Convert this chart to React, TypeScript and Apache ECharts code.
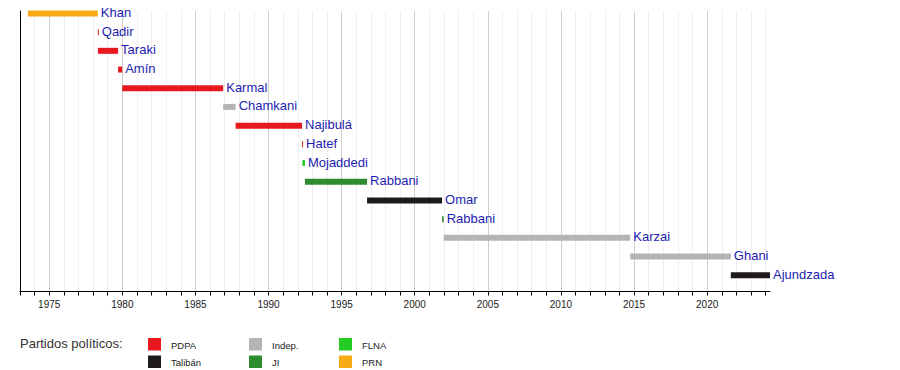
import React, { useEffect, useRef } from "react";
import * as echarts from "echarts";

// ---- data ----
const LEADERS = [
  "Khan", "Qadir", "Taraki", "Amín", "Karmal", "Chamkani", "Najibulá", "Hatef",
  "Mojaddedi", "Rabbani", "Omar", "Rabbani", "Karzai", "Ghani", "Ajundzada",
];
const START_YEARS = [
  1973.54, 1978.32, 1978.33, 1979.71, 1979.99, 1986.9, 1987.75, 1992.29,
  1992.32, 1992.49, 1996.74, 2001.87, 2001.98, 2014.74, 2021.62,
];
const END_YEARS = [
  1978.32, 1978.33, 1979.71, 1979.99, 1986.9, 1987.75, 1992.29, 1992.32,
  1992.49, 1996.74, 2001.87, 2001.98, 2014.74, 2021.62, 2024.3,
];
const LEADER_PARTY = [
  "PRN", "PDPA", "PDPA", "PDPA", "PDPA", "Indep.", "PDPA", "PDPA",
  "FLNA", "JI", "Talibán", "JI", "Indep.", "Indep.", "Talibán",
];
const PARTY_NAMES = ["PDPA", "Talibán", "Indep.", "JI", "FLNA", "PRN"];
const PARTY_COLORS = ["#e8181f", "#1e1a1e", "#b4b4b4", "#2e8b2e", "#22cc22", "#f7aa14"];
const LEGEND_TITLE = "Partidos políticos:";
const AXIS_MIN = 1973;
const AXIS_MAX = 2024.3;

// ---- style constants ----
const FONT = "'Liberation Sans', Arial, Helvetica, sans-serif";
const LABEL_COLOR = "#1c1cb0";
const BAR_H = 6;
const ROW_OFFSET = 0.13;

export default function App() {
  const ref = useRef<HTMLDivElement>(null);

  useEffect(() => {
    if (!ref.current) return;
    const chart = echarts.init(ref.current, null, { renderer: "svg" });

    const colorOf = (p: string) => PARTY_COLORS[PARTY_NAMES.indexOf(p)];

    const data = LEADERS.map((_, i) => [START_YEARS[i], END_YEARS[i], i + ROW_OFFSET]);

    // legend graphics
    const legendEls: any[] = [
      {
        type: "text",
        x: 20,
        y: 343,
        style: {
          text: LEGEND_TITLE,
          fill: "#333",
          fontSize: 13,
          fontFamily: FONT,
          verticalAlign: "middle",
          align: "left",
        },
      },
    ];
    const colX = [148, 249, 339];
    const rowY = [338, 355.5];
    const rowTextY = [345.7, 362.5];
    PARTY_NAMES.forEach((name, k) => {
      const c = Math.floor(k / 2);
      const r = k % 2;
      legendEls.push({
        type: "rect",
        shape: { x: colX[c], y: rowY[r], width: 13, height: 12.5 },
        style: { fill: PARTY_COLORS[k] },
      });
      legendEls.push({
        type: "text",
        x: colX[c] + 23,
        y: rowTextY[r],
        style: {
          text: name,
          fill: "#222",
          fontSize: 9.5,
          fontFamily: FONT,
          verticalAlign: "middle",
          align: "left",
        },
      });
    });

    const minor = "#efefef";
    const major = "#cfcfcf";

    chart.setOption({
      animation: false,
      grid: { left: 20, right: 130, top: 11, bottom: 78.5, containLabel: false, outerBoundsMode: "none" },
      xAxis: {
        type: "value",
        min: AXIS_MIN,
        max: AXIS_MAX,
        interval: 1,
        axisLine: { show: true, onZero: false, lineStyle: { color: "#000", width: 1 } },
        axisTick: { show: true, length: 4, lineStyle: { color: "#000" } },
        axisLabel: {
          margin: 8,
          color: "#222",
          fontSize: 10,
          fontFamily: FONT,
          showMaxLabel: false,
          formatter: (v: number) => {
            const r = Math.round(v);
            return Math.abs(v - r) < 1e-6 && r % 5 === 0 ? String(r) : "";
          },
        },
        splitLine: {
          show: true,
          showMinLine: false,
          showMaxLine: false,
          lineStyle: { color: [minor, major, minor, minor, minor], width: 1 },
        },
      },
      yAxis: {
        type: "value",
        min: 0,
        max: 15,
        inverse: true,
        axisLine: { show: true, onZero: false, lineStyle: { color: "#000", width: 1 } },
        axisTick: { show: false },
        axisLabel: { show: false },
        splitLine: { show: false },
      },
      series: [
        {
          type: "custom",
          clip: false,
          data,
          renderItem: (params: any, api: any) => {
            const i = params.dataIndex;
            const s = api.value(0);
            const e = api.value(1);
            const row = api.value(2);
            const p0 = api.coord([s, row]);
            const p1 = api.coord([e, row]);
            const w = Math.max(p1[0] - p0[0], 1);
            return {
              type: "group",
              children: [
                {
                  type: "rect",
                  shape: { x: p0[0], y: p0[1] - BAR_H / 2, width: w, height: BAR_H },
                  style: { fill: colorOf(LEADER_PARTY[i]) },
                },
                {
                  type: "text",
                  x: p0[0] + w + 3,
                  y: p0[1] - 1,
                  style: {
                    text: LEADERS[i],
                    fill: LABEL_COLOR,
                    fontSize: 13,
                    fontFamily: FONT,
                    verticalAlign: "middle",
                    align: "left",
                  },
                },
              ],
            };
          },
        },
      ],
      graphic: legendEls,
    });

    return () => chart.dispose();
  }, []);

  return <div ref={ref} style={{ width: 900, height: 370, position: "absolute", left: 0, top: 0 }} />;
}
